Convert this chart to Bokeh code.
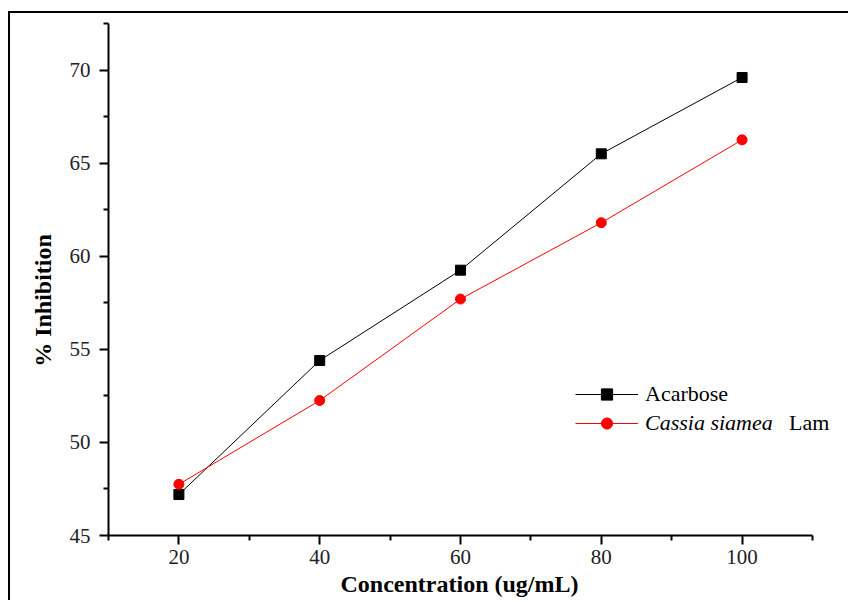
from bokeh.plotting import figure
from bokeh.models import FixedTicker, Legend, LegendItem, Range1d
from bokeh.embed import file_html
from bokeh.resources import INLINE

concentration = [20, 40, 60, 80, 100]
acarbose = [47.2, 54.4, 59.25, 65.5, 69.6]
cassia = [47.75, 52.25, 57.7, 61.8, 66.25]

x_major = [20, 40, 60, 80, 100]
x_minor = [10, 30, 50, 70, 90, 110]
y_major = [45, 50, 55, 60, 65, 70]
y_minor = [47.5, 52.5, 57.5, 62.5, 67.5, 72.5]

SERIF = "Liberation Serif"
NBSP = "\u00a0"

# frame extends a little past x=110 so the legend text is not clipped;
# the visible axis is bounded to 10..110
p = figure(width=840, height=589, output_backend="svg", toolbar_location=None,
           x_range=Range1d(10, 113.98), y_range=Range1d(45, 72.5),
           min_border_left=98, min_border_right=10, min_border_top=10, min_border_bottom=67)
p.styles = {"border-top": "2px solid black", "border-left": "2px solid black",
            "margin-top": "11px", "margin-left": "8px"}
p.outline_line_color = None
p.grid.visible = False
p.background_fill_color = "white"

for ax in (p.xaxis[0], p.yaxis[0]):
    ax.axis_line_width = 2
    ax.axis_line_color = "black"
    ax.major_tick_line_width = 2
    ax.minor_tick_line_width = 2
    ax.major_tick_in = 0
    ax.major_tick_out = 9
    ax.minor_tick_in = 0
    ax.minor_tick_out = 5
    ax.major_label_text_font = SERIF
    ax.major_label_text_font_size = "21px"
    ax.major_label_text_color = "#222222"
    ax.axis_label_text_font = SERIF
    ax.axis_label_text_font_style = "bold"
    ax.axis_label_text_font_size = "24px"
    ax.axis_label_text_color = "black"

p.xaxis[0].bounds = (10, 110)
p.xaxis[0].ticker = FixedTicker(ticks=x_major, minor_ticks=x_minor)
p.yaxis[0].ticker = FixedTicker(ticks=y_major, minor_ticks=y_minor)
p.xaxis[0].major_label_standoff = 5
p.yaxis[0].major_label_standoff = 9
p.xaxis[0].axis_label = "Concentration (ug/mL)" + NBSP * 5
p.yaxis[0].axis_label = "% Inhibition" + NBSP * 7
p.xaxis[0].axis_label_standoff = 4
p.yaxis[0].axis_label_standoff = 11

l1 = p.line(concentration, acarbose, line_color="black", line_width=1)
s1 = p.scatter(concentration, acarbose, marker="square", size=10, fill_color="black", line_color="black")
l2 = p.line(concentration, cassia, line_color="red", line_width=1)
s2 = p.scatter(concentration, cassia, marker="circle", size=10, fill_color="red", line_color="red")
dummy = p.scatter(concentration, cassia, marker="circle", size=1, fill_alpha=0, line_alpha=0)

common = dict(border_line_color=None, background_fill_alpha=0, padding=0, margin=0,
              glyph_height=28, label_height=28,
              label_text_font=SERIF, label_text_font_size="22px", label_text_color="black")
leg1 = Legend(items=[LegendItem(label="Acarbose", renderers=[l1, s1])], location=(467, 127),
              glyph_width=63, label_standoff=7, **common)
leg2 = Legend(items=[LegendItem(label="Cassia siamea", renderers=[l2, s2])], location=(467, 98),
              glyph_width=63, label_standoff=7, label_text_font_style="italic", **common)
leg3 = Legend(items=[LegendItem(label="Lam", renderers=[dummy])], location=(681, 98),
              glyph_width=0, label_standoff=0, **common)
p.add_layout(leg1)
p.add_layout(leg2)
p.add_layout(leg3)

open("out.html", "w").write(file_html(p, INLINE))
